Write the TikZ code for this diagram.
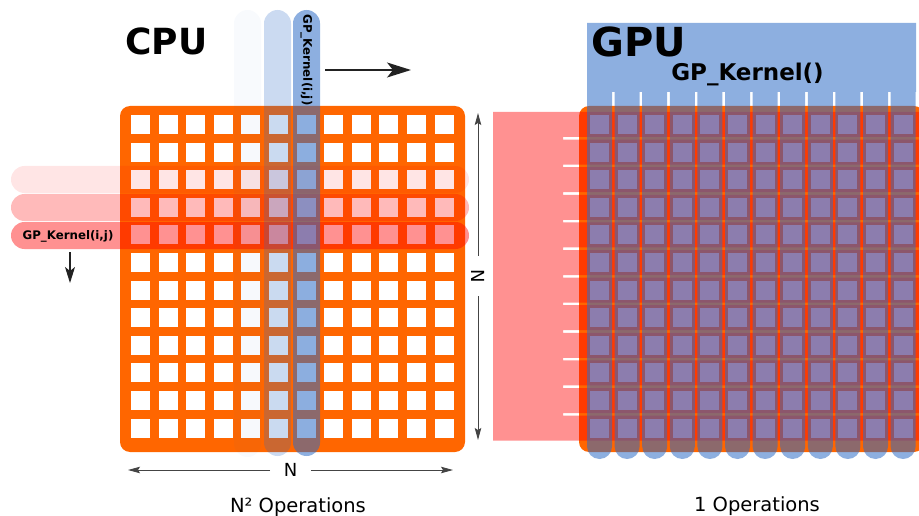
\documentclass[tikz,border=0pt]{standalone}
\usepackage{fontspec}
\setmainfont{DejaVu Sans}
\usetikzlibrary{arrows.meta}

\definecolor{gridorange}{HTML}{FF6600}
\definecolor{kernblue}{HTML}{2F6DC6}
\definecolor{kernred}{HTML}{FF0000}
\definecolor{arrowink}{HTML}{222222}
\definecolor{dimink}{HTML}{444444}

% 12 x 12 grid of cells: #1 = left edge, #2 = top edge
\newcommand\cellgrid[2]{%
  \fill[gridorange, rounded corners=10] (#1,#2) rectangle ++(345,346);
  \foreach \i in {0,...,11}{%
    \foreach \j in {0,...,11}{%
      \fill[white] ({#1+11+27.6*\i},{#2+9+27.6*\j}) rectangle ++(19,19);}}%
}

\begin{document}
\begin{tikzpicture}[x=1pt,y=-1pt,
  title/.style={font=\bfseries\fontsize{#1}{#1}\selectfont, inner sep=0pt},
  kernlabel/.style={font=\bfseries\fontsize{11.8}{12}\selectfont, text=black, inner sep=0pt},
  caption/.style={font=\fontsize{19.5}{20}\selectfont, inner sep=0pt},
  dimlabel/.style={font=\fontsize{18}{18}\selectfont, inner ysep=2pt, inner xsep=13.5pt},
  dimline/.style={draw=dimink, line width=0.9pt, -{Stealth[length=12pt,width=6.5pt,inset=2pt]}},
  movearrow/.style={draw=arrowink, line width=1.6pt, -{Stealth[length=24pt,width=15pt,inset=6pt]}},
  downarrow/.style={draw=arrowink, line width=1.3pt, -{Stealth[length=16pt,width=10pt,inset=4pt]}},
  vbar/.style={fill=kernblue, rounded corners=13.5},
  hbar/.style={fill=kernred, rounded corners=13.5}]

\useasboundingbox (0,0) rectangle (919,516);
\clip (0,0) rectangle (919,516);

% ---------------- CPU: one kernel call per cell ----------------
\cellgrid{120}{106}

% rows already visited / being visited
\fill[hbar, opacity=.10] (11,166) rectangle (469,193);
\fill[hbar, opacity=.27] (11,194) rectangle (469,221);
\fill[hbar, opacity=.43] (11,222) rectangle (469,249);

% columns already visited / being visited
\fill[vbar, opacity=.035] (234,10) rectangle (261,457);
\fill[vbar, opacity=.25] (264,10) rectangle (291,456);
\fill[vbar, opacity=.55] (293,10) rectangle (320,456);

\node[title=36, anchor=base west] (cpu) at (125,55) {CPU};
\node[kernlabel, rotate=-90] (colkernel) at (306.5,60) {GP\_Kernel(i,j)};
\node[kernlabel] (rowkernel) at (68,236) {GP\_Kernel(i,j)};

\coordinate (colstart) at (325,70);
\coordinate (colend) at (411,70);
\draw[movearrow] (colstart) -- (colend);

\coordinate (rowstart) at (70,252);
\coordinate (rowend) at (70,283);
\draw[downarrow] (rowstart) -- (rowend);

% size of the grid
\node[dimlabel] (nhoriz) at (290.5,470) {N};
\coordinate (hleft) at (128,470);
\coordinate (hright) at (453,470);
\draw[dimline] (nhoriz) -- (hleft);
\draw[dimline] (nhoriz) -- (hright);

\node[dimlabel, rotate=-90] (nvert) at (478,276) {N};
\coordinate (vtop) at (478,113);
\coordinate (vbottom) at (478,440);
\draw[dimline] (nvert) -- (vtop);
\draw[dimline] (nvert) -- (vbottom);

\node[caption, anchor=base] (cpuops) at (298,512) {N² Operations};

% ---------------- GPU: all cells in a single call ----------------
\cellgrid{579}{106}

% every row at once
\fill[kernred, opacity=.43] (493,112) rectangle (563,440.6)
  \foreach \k in {0,...,11}{ (561,{112+27.6*\k}) rectangle (930,{137+27.6*\k}) };

% every column at once
\fill[kernblue, opacity=.55] (587,23) rectangle (916,92)
  [rounded corners=12.5]
  \foreach \k in {0,...,11}{ ({587+27.6*\k},60) rectangle ++(25,399) };

\node[title=40, anchor=base west] (gpu) at (591,57) {GPU};
\node[title=23, anchor=base] (allkernel) at (747.5,81) {GP\_Kernel()};
\node[caption, anchor=base] (gpuops) at (757,511) {1 Operations};

\end{tikzpicture}
\end{document}
